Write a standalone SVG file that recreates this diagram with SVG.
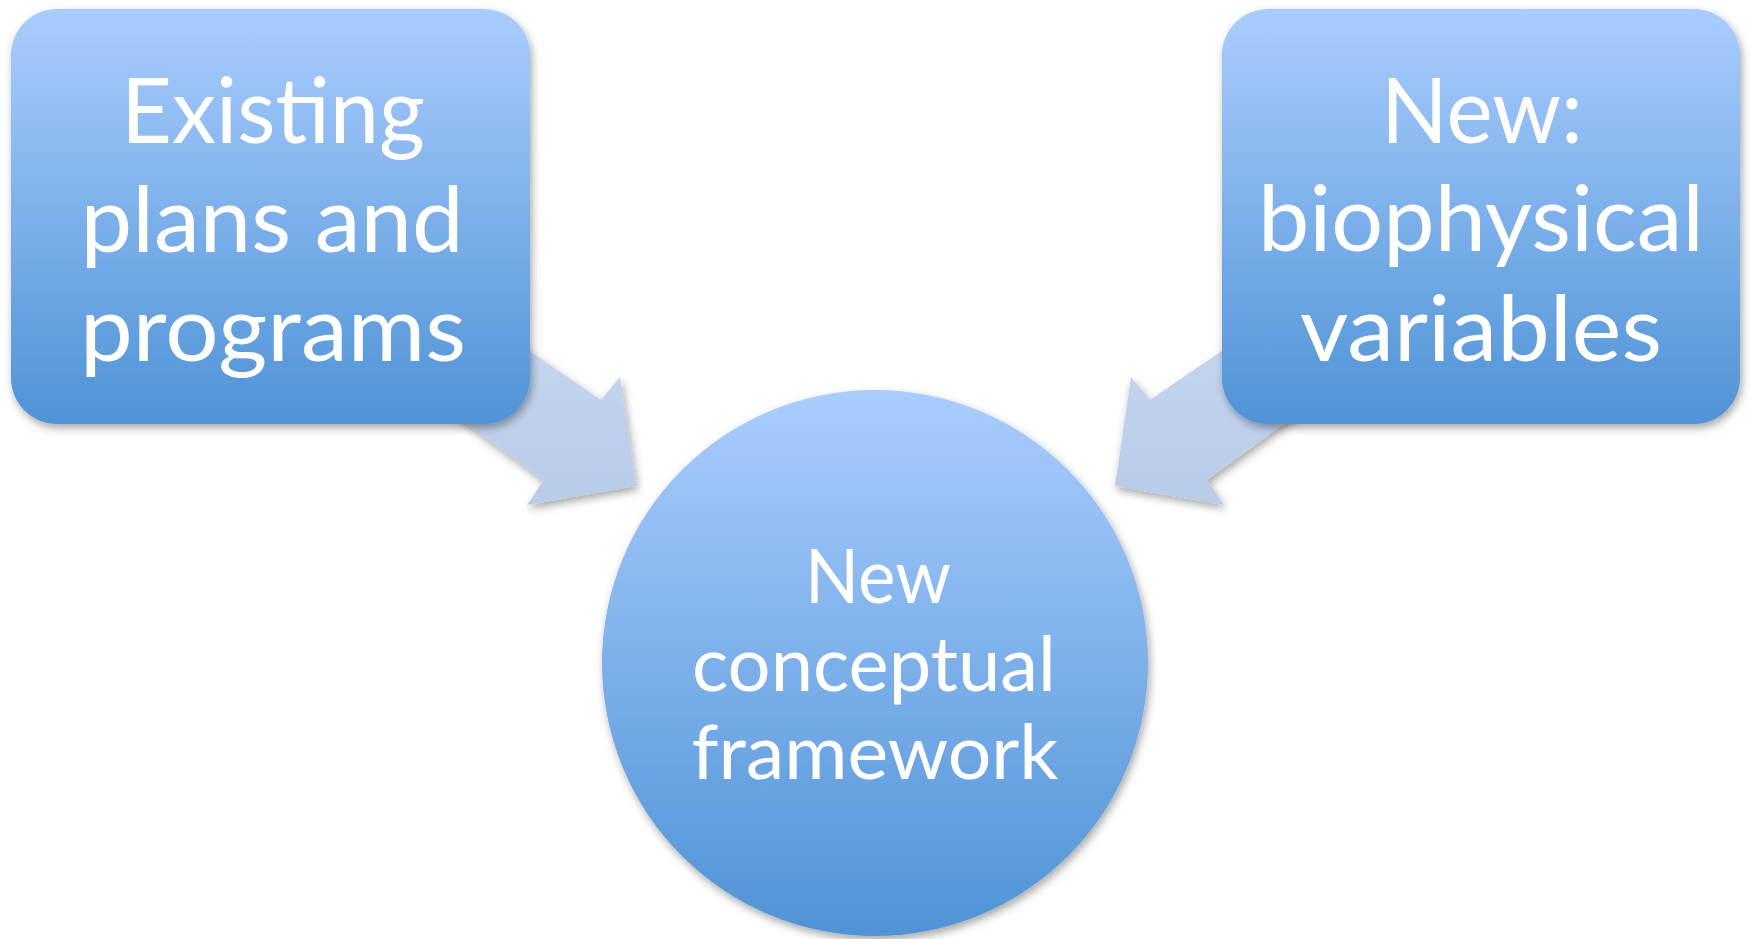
<svg xmlns="http://www.w3.org/2000/svg" width="1751" height="939" viewBox="0 0 1751 939">
<style>
.lbl{font-family:Lato,"Open Sans","Liberation Sans",sans-serif;fill:#ffffff;text-anchor:middle}
.big{font-size:91px}
.mid{font-size:75px}
.arrow{fill:url(#ga);filter:url(#sh)}
</style>
<defs>
<linearGradient id="gb" x1="0" y1="0" x2="0" y2="1">
<stop offset="0" stop-color="#aacdfe"/>
<stop offset="1" stop-color="#4f93d6"/>
</linearGradient>
<linearGradient id="ga" x1="0" y1="0" x2="0" y2="1">
<stop offset="0" stop-color="#c8d8f0"/>
<stop offset="1" stop-color="#b8cbe9"/>
</linearGradient>
<filter id="sh" x="-10%" y="-10%" width="125%" height="125%">
<feDropShadow dx="2" dy="4" stdDeviation="4" flood-color="#000" flood-opacity="0.35"/>
</filter>
</defs>
<rect width="1751" height="939" fill="#ffffff"/>
<g id="connectors">
<polygon class="arrow" points="440,290 601,400 620,377 636,486 527,505 544,480 380,360"/>
<polygon class="arrow" points="1311,290 1150,400 1131,377 1115,486 1224,505 1207,480 1371,360"/>
</g>
<g id="node-existing">
<rect x="11" y="9" width="519" height="415" rx="46" fill="url(#gb)" filter="url(#sh)"/>
<text class="lbl big" x="273" y="143" textLength="304" lengthAdjust="spacingAndGlyphs">Existing</text>
<text class="lbl big" x="272" y="252" textLength="383" lengthAdjust="spacingAndGlyphs">plans and</text>
<text class="lbl big" x="273" y="361" textLength="386" lengthAdjust="spacingAndGlyphs">programs</text>
</g>
<g id="node-new">
<rect x="1222" y="9" width="518" height="415" rx="46" fill="url(#gb)" filter="url(#sh)"/>
<text class="lbl big" x="1482" y="143" textLength="202" lengthAdjust="spacingAndGlyphs">New:</text>
<text class="lbl big" x="1481" y="251" textLength="446" lengthAdjust="spacingAndGlyphs">biophysical</text>
<text class="lbl big" x="1481" y="361" textLength="362" lengthAdjust="spacingAndGlyphs">variables</text>
</g>
<g id="node-framework">
<circle cx="875" cy="663" r="273" fill="url(#gb)" filter="url(#sh)"/>
<text class="lbl mid" x="878" y="603" textLength="146" lengthAdjust="spacingAndGlyphs">New</text>
<text class="lbl mid" x="874" y="691" textLength="364" lengthAdjust="spacingAndGlyphs">conceptual</text>
<text class="lbl mid" x="875" y="779" textLength="367" lengthAdjust="spacingAndGlyphs">framework</text>
</g>
</svg>
